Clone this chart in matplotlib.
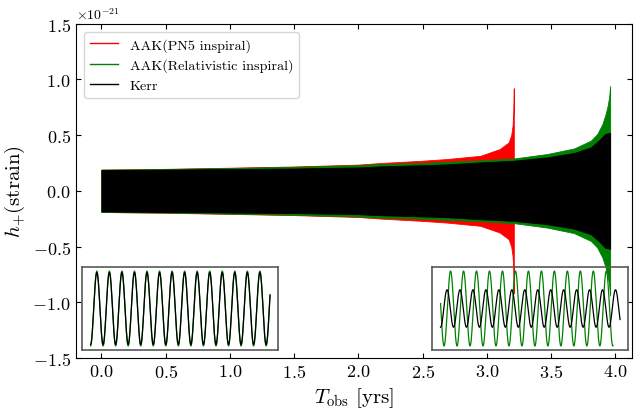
import numpy as np
import matplotlib
matplotlib.use('Agg')
import matplotlib.pyplot as plt

plt.rcParams['font.family'] = 'serif'
plt.rcParams['font.serif'] = ['cmr10']
plt.rcParams['mathtext.fontset'] = 'cm'
plt.rcParams['axes.formatter.use_mathtext'] = True

# envelope of h_+ (upper edge, units of 1e-21)
t_pn5 = [0.0, 0.5, 1.0, 1.5, 2.0, 2.17, 2.5, 2.69, 2.95, 3.1, 3.17, 3.19, 3.2, 3.206, 3.21]
amp_pn5 = [0.19, 0.197, 0.207, 0.218, 0.235, 0.249, 0.27, 0.285, 0.314, 0.374, 0.434, 0.50, 0.58, 0.70, 0.92]

t_rel = [0.0, 0.5, 1.0, 1.5, 2.0, 2.17, 2.5, 2.69, 2.95, 3.21, 3.47, 3.68, 3.81, 3.86, 3.9, 3.925, 3.94, 3.952, 3.96]
amp_rel = [0.19, 0.195, 0.205, 0.215, 0.23, 0.24, 0.25, 0.26, 0.273, 0.29, 0.33, 0.38, 0.45, 0.51, 0.60, 0.69, 0.76, 0.84, 0.94]

t_kerr = [0.0, 0.5, 1.0, 1.5, 2.0, 2.17, 2.5, 2.69, 2.95, 3.21, 3.47, 3.68, 3.81, 3.88, 3.92, 3.96]
amp_kerr = [0.185, 0.19, 0.195, 0.20, 0.21, 0.219, 0.23, 0.237, 0.255, 0.27, 0.30, 0.34, 0.39, 0.46, 0.51, 0.52]

# inset waveforms: (amplitude, cycles across window, start phase, fraction of window covered)
left_rel = (1.0, 14.31, np.pi, 1.0)
left_kerr = (0.96, 14.31, np.pi, 1.0)
right_rel = (1.0, 13.83, -0.771 * 2 * np.pi, 0.961)
right_kerr = (0.5, 13.85, np.pi, 1.0)

labels = ['AAK(PN5 inspiral)', 'AAK(Relativistic inspiral)', 'Kerr']
colors = ['red', 'green', 'black']


def wave(p):
    amp, cyc, ph, frac = p
    x = np.linspace(0, frac, 1500)
    return x, amp * np.cos(2 * np.pi * cyc * x + ph)


fig = plt.figure(figsize=(6.34, 4.10), dpi=100)
ax = fig.add_axes([75.7 / 634, 51 / 410, (632 - 75.7) / 634, (359 - 24.6) / 410])

for t, a, c, lab in zip([t_pn5, t_rel, t_kerr], [amp_pn5, amp_rel, amp_kerr], colors, labels):
    a = np.array(a) * 1e-21
    ax.fill_between(t, -a, a, color=c, lw=0.6, edgecolor=c)
    ax.plot([], [], color=c, lw=1.0, label=lab)

ax.set_xlim(-0.2, 4.13)
ax.set_ylim(-1.5e-21, 1.5e-21)
ax.set_xticks(np.arange(0, 4.01, 0.5))
ax.set_yticks(np.arange(-1.5e-21, 1.51e-21, 0.5e-21))
ax.tick_params(direction='in', top=True, right=True, labelsize=13)
ax.yaxis.get_offset_text().set_fontsize(10)
ax.set_xlabel(r'$T_{\rm obs}$ [yrs]', fontsize=15)
ax.set_ylabel(r'$h_{+}$(strain)', fontsize=15)
ax.legend(loc='upper left', fontsize=10.2, borderaxespad=0.6)

# insets
for x0, pair in [(82.3, (left_rel, left_kerr)), (432.3, (right_rel, right_kerr))]:
    ins = fig.add_axes([x0 / 634, (410 - 350.7) / 410, 196 / 634, 82.4 / 410])
    ins.set_facecolor('none')
    xg, yg = wave(pair[0])
    xk, yk = wave(pair[1])
    ins.plot(xg, yg, color='green', lw=0.9)
    ins.plot(xk, yk, color='black', lw=0.9)
    ins.set_xlim(-0.046, 1.046)
    ins.set_ylim(-1.1, 1.1)
    ins.set_xticks([])
    ins.set_yticks([])
    for s in ins.spines.values():
        s.set_color('0.35')
        s.set_linewidth(1.2)

fig.savefig('out.png', dpi=100)
